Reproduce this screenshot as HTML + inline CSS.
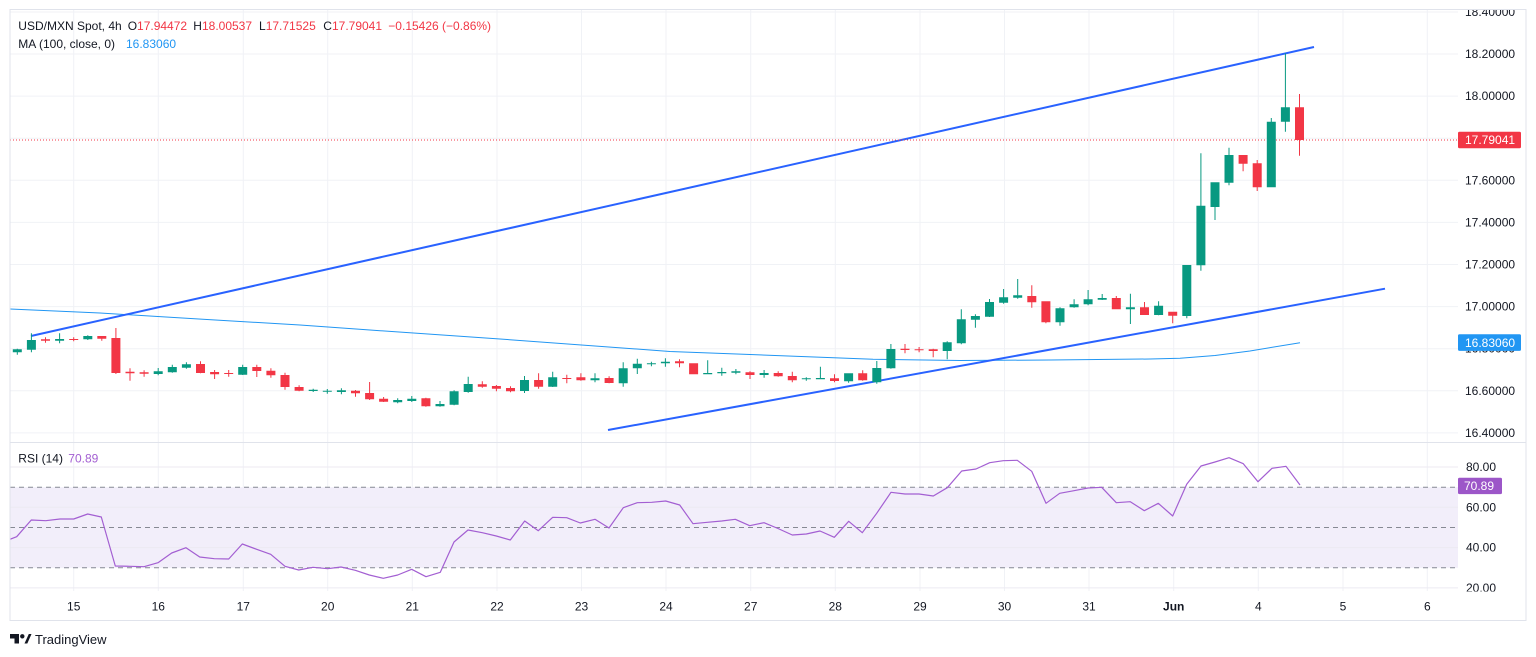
<!DOCTYPE html>
<html>
<head>
<meta charset="utf-8">
<style>
html,body{margin:0;padding:0;background:#fff;}
svg{display:block;}
text{font-family:"Liberation Sans",sans-serif;}
</style>
</head>
<body>
<svg width="1536" height="657" viewBox="0 0 1536 657" xmlns="http://www.w3.org/2000/svg">
<defs>
<clipPath id="mainClip"><rect x="10" y="10" width="1448" height="432"/></clipPath>
<clipPath id="rsiClip"><rect x="10" y="443" width="1448" height="148"/></clipPath>
<clipPath id="axClip"><rect x="1458" y="10" width="68" height="432"/></clipPath>
<clipPath id="axClip2"><rect x="1458" y="443" width="68" height="148.5"/></clipPath>
</defs>
<rect x="0" y="0" width="1536" height="657" fill="#fff"/>

<!-- vertical grid -->
<g stroke="#f0f2f6" stroke-width="1">
<line x1="73.7" y1="10" x2="73.7" y2="591"/>
<line x1="158.3" y1="10" x2="158.3" y2="591"/>
<line x1="243.3" y1="10" x2="243.3" y2="591"/>
<line x1="327.7" y1="10" x2="327.7" y2="591"/>
<line x1="412.3" y1="10" x2="412.3" y2="591"/>
<line x1="497" y1="10" x2="497" y2="591"/>
<line x1="581.5" y1="10" x2="581.5" y2="591"/>
<line x1="666" y1="10" x2="666" y2="591"/>
<line x1="750.7" y1="10" x2="750.7" y2="591"/>
<line x1="835.3" y1="10" x2="835.3" y2="591"/>
<line x1="920" y1="10" x2="920" y2="591"/>
<line x1="1004.5" y1="10" x2="1004.5" y2="591"/>
<line x1="1089" y1="10" x2="1089" y2="591"/>
<line x1="1173.7" y1="10" x2="1173.7" y2="591"/>
<line x1="1258.3" y1="10" x2="1258.3" y2="591"/>
<line x1="1343" y1="10" x2="1343" y2="591"/>
<line x1="1427.3" y1="10" x2="1427.3" y2="591"/>
</g>
<!-- horizontal grid main -->
<g stroke="#f0f2f6" stroke-width="1">
<line x1="10" y1="12" x2="1458" y2="12"/>
<line x1="10" y1="54" x2="1458" y2="54"/>
<line x1="10" y1="96.1" x2="1458" y2="96.1"/>
<line x1="10" y1="138.2" x2="1458" y2="138.2"/>
<line x1="10" y1="180.3" x2="1458" y2="180.3"/>
<line x1="10" y1="222.4" x2="1458" y2="222.4"/>
<line x1="10" y1="264.5" x2="1458" y2="264.5"/>
<line x1="10" y1="306.6" x2="1458" y2="306.6"/>
<line x1="10" y1="348.7" x2="1458" y2="348.7"/>
<line x1="10" y1="390.8" x2="1458" y2="390.8"/>
<line x1="10" y1="432.9" x2="1458" y2="432.9"/>
</g>

<!-- RSI band and grid -->
<rect x="10" y="487.2" width="1448" height="80.6" fill="#f2eefa"/>
<g stroke="#eceaf2" stroke-width="1">
<line x1="10" y1="467" x2="1458" y2="467"/>
<line x1="10" y1="507.3" x2="1458" y2="507.3"/>
<line x1="10" y1="547.6" x2="1458" y2="547.6"/>
<line x1="10" y1="587.9" x2="1458" y2="587.9"/>
</g>
<g stroke="#868993" stroke-width="1" stroke-dasharray="5,4">
<line x1="10" y1="487.2" x2="1458" y2="487.2"/>
<line x1="10" y1="527.5" x2="1458" y2="527.5"/>
<line x1="10" y1="567.8" x2="1458" y2="567.8"/>
</g>

<!-- pane separator -->
<line x1="10" y1="442.5" x2="1526" y2="442.5" stroke="#e0e3eb" stroke-width="1"/>

<g clip-path="url(#mainClip)">
<!-- MA -->
<polyline fill="none" stroke="#2196f3" stroke-width="1" points="10,309 100,313 207,319.5 300,325 363,329.5 500,339 670,351.5 750,354.5 873,359.3 960,360.5 1050,360 1150,359 1180,358.3 1215,355.5 1250,351 1300,342.7"/>
<!-- trend lines -->
<line x1="31" y1="336" x2="1314" y2="47" stroke="#2962ff" stroke-width="2"/>
<line x1="608" y1="430" x2="1385" y2="288.7" stroke="#2962ff" stroke-width="2"/>
<!-- price line -->
<line x1="10" y1="140" x2="1458" y2="140" stroke="#f23645" stroke-width="1" stroke-dasharray="1,2"/>

<!-- green candles -->
<path fill="#089981" d="
M16.8 348.7h1V354.7h-1z M12.8 349.3h9V352.3h-9z
M30.9 333.3h1V352.3h-1z M26.9 340h9V349.7h-9z
M59.1 333.3h1V343.3h-1z M55.1 339h9V340.7h-9z
M87.3 335.3h1V340h-1z M83.3 336h9V339.3h-9z
M157.7 368h1V375.3h-1z M153.7 371.3h9V374h-9z
M171.8 364.7h1V372.7h-1z M167.8 367h9V372.3h-9z
M185.9 362.3h1V368.7h-1z M181.9 364.3h9V367.7h-9z
M242.2 364.7h1V375h-1z M238.2 367h9V374.7h-9z
M312.7 388.7h1V392h-1z M308.7 389.7h9V391h-9z
M326.8 389h1V393.7h-1z M322.8 390.7h9V391.7h-9z
M340.9 388.3h1V394.3h-1z M336.9 390.3h9V392h-9z
M397.2 398.3h1V403.3h-1z M393.2 400h9V402.3h-9z
M411.3 396h1V402h-1z M407.3 398.7h9V401h-9z
M439.5 401h1V406.7h-1z M435.5 404h9V406.3h-9z
M453.6 390.3h1V405.3h-1z M449.6 391.3h9V404.7h-9z
M467.7 376.7h1V392.7h-1z M463.7 384h9V392h-9z
M524 376h1V393h-1z M520 380h9V391h-9z
M552.2 371.7h1V387h-1z M548.2 377.3h9V386.7h-9z
M594.5 373.3h1V382.3h-1z M590.5 378.3h9V380.3h-9z
M622.7 362.3h1V386.7h-1z M618.7 368.3h9V383.3h-9z
M636.8 358.7h1V374h-1z M632.8 363.7h9V368.3h-9z
M650.9 361.7h1V366.3h-1z M646.9 363.3h9V364.3h-9z
M664.9 358.3h1V366.7h-1z M660.9 361.7h9V363.3h-9z
M707.2 360.3h1V374.3h-1z M703.2 373h9V374.3h-9z
M721.3 367.7h1V375.7h-1z M717.3 372h9V373.3h-9z
M735.4 369h1V374.3h-1z M731.4 371.3h9V372.7h-9z
M763.6 370h1V377.7h-1z M759.6 373h9V375h-9z
M805.8 377.3h1V380.7h-1z M801.8 378.3h9V379.3h-9z
M819.9 366.7h1V379.3h-1z M815.9 378h9V379.3h-9z
M848.1 373.3h1V382.7h-1z M844.1 373.3h9V381.3h-9z
M876.3 361h1V383.7h-1z M872.3 368h9V382.3h-9z
M890.4 344h1V368.7h-1z M886.4 349h9V368.3h-9z
M946.7 341.3h1V359.3h-1z M942.7 342.3h9V351h-9z
M960.8 309.3h1V344.3h-1z M956.8 319.3h9V343.3h-9z
M974.9 314.3h1V327.7h-1z M970.9 316h9V319.7h-9z
M989 299h1V317h-1z M985 302h9V316.7h-9z
M1003.1 289h1V303.7h-1z M999.1 297.3h9V302.7h-9z
M1017.2 279h1V298.7h-1z M1013.2 295.3h9V297.7h-9z
M1059.5 307.3h1V325.7h-1z M1055.5 308.3h9V322.3h-9z
M1073.6 299.3h1V307.7h-1z M1069.6 304.3h9V307.3h-9z
M1087.6 290h1V305.3h-1z M1083.6 299.3h9V304.3h-9z
M1101.7 294h1V300h-1z M1097.7 298h9V299.7h-9z
M1129.9 293.7h1V324h-1z M1125.9 307.3h9V309.3h-9z
M1158.1 301.3h1V315.3h-1z M1154.1 305.7h9V315h-9z
M1186.3 265h1V318.3h-1z M1182.3 265h9V316h-9z
M1200.4 153.3h1V270.7h-1z M1196.4 205.7h9V265.3h-9z
M1214.5 182.3h1V220h-1z M1210.5 182.3h9V207h-9z
M1228.5 147.7h1V185.3h-1z M1224.5 155h9V182.7h-9z
M1270.8 118h1V187.3h-1z M1266.8 121.7h9V187.3h-9z
M1284.9 53.3h1V131.7h-1z M1280.9 107.3h9V121.7h-9z
"/>
<!-- red candles -->
<path fill="#f23645" d="
M45 337.3h1V342.7h-1z M41 339.3h9V340.7h-9z
M73.2 337.3h1V341.3h-1z M69.2 339h9V340h-9z
M101.3 336h1V340.7h-1z M97.3 336h9V338.7h-9z
M115.4 328h1V374h-1z M111.4 338h9V373h-9z
M129.5 368.3h1V380.7h-1z M125.5 371.7h9V373.3h-9z
M143.6 370.3h1V376.7h-1z M139.6 372.3h9V373.7h-9z
M200 361.3h1V373.3h-1z M196 364h9V373h-9z
M214.1 370h1V379h-1z M210.1 372h9V374.3h-9z
M228.2 370h1V376.7h-1z M224.2 373h9V374h-9z
M256.3 364.7h1V377h-1z M252.3 367h9V371h-9z
M270.4 368.3h1V377.7h-1z M266.4 370.7h9V375.3h-9z
M284.5 372.7h1V389.7h-1z M280.5 375h9V387h-9z
M298.6 385.3h1V391.3h-1z M294.6 387h9V390.7h-9z
M355 390h1V396.7h-1z M351 390.7h9V393.3h-9z
M369.1 382h1V400h-1z M365.1 393h9V399.3h-9z
M383.1 397h1V402h-1z M379.1 398.7h9V401.7h-9z
M425.4 397.7h1V406.7h-1z M421.4 398.3h9V406.3h-9z
M481.8 381.3h1V387.7h-1z M477.8 384.3h9V386.7h-9z
M495.9 385h1V391.3h-1z M491.9 386h9V388.7h-9z
M510 386.3h1V392.3h-1z M506 388h9V391.3h-9z
M538.1 373.3h1V388.7h-1z M534.1 380h9V386.7h-9z
M566.3 374.7h1V383.3h-1z M562.3 378h9V379h-9z
M580.4 373.3h1V380.7h-1z M576.4 377.3h9V380.3h-9z
M608.6 376.3h1V383.3h-1z M604.6 378h9V383h-9z
M679 359.3h1V367.3h-1z M675 361.3h9V363.3h-9z
M693.1 363.3h1V374.3h-1z M689.1 363.3h9V374.3h-9z
M749.5 371.3h1V379h-1z M745.5 372.3h9V375h-9z
M777.7 371.3h1V376.7h-1z M773.7 373h9V376.3h-9z
M791.8 371.7h1V382.3h-1z M787.8 376h9V380.3h-9z
M834 374.3h1V382.3h-1z M830 378.3h9V381h-9z
M862.2 370.3h1V380.7h-1z M858.2 373.3h9V380.3h-9z
M904.5 344h1V353.3h-1z M900.5 348.7h9V350h-9z
M918.6 347h1V352.3h-1z M914.6 349.3h9V350.3h-9z
M932.7 348.7h1V357.3h-1z M928.7 349.3h9V351h-9z
M1031.3 285.3h1V307.7h-1z M1027.3 296h9V302.3h-9z
M1045.4 301.3h1V323.3h-1z M1041.4 301.3h9V322.3h-9z
M1115.8 296h1V309.3h-1z M1111.8 298h9V309.3h-9z
M1144 302h1V315h-1z M1140 307.3h9V315h-9z
M1172.2 311.7h1V323.3h-1z M1168.2 311.7h9V315.7h-9z
M1242.6 155h1V171.3h-1z M1238.6 155h9V163.7h-9z
M1256.7 160h1V191h-1z M1252.7 163.3h9V187.3h-9z
M1299 94h1V155.7h-1z M1295 107.3h9V140h-9z
"/>
</g>

<!-- RSI line -->
<g clip-path="url(#rsiClip)">
<polyline fill="none" stroke="#a35fd2" stroke-width="1.2" stroke-linejoin="round" points="10,539.3 16.7,536.7 31.3,520 45.7,520.7 60,519 73.7,519 87.7,514 101.3,517 115.3,566 130,566.3 144,566.7 158,562.7 171.7,553 186,547.7 199.7,557 214.3,558.7 228.7,559 242.3,544 256.7,549.3 270.7,554.3 285,566.3 298.7,570 313,567.3 327.7,568.7 341,567 355.3,570.3 369.3,575 383.3,578.3 397.7,575 411.7,569.3 426,576.7 440.3,572.3 454,542 468,530 482.3,532.7 496.3,536 510.3,540 524.7,521 538.3,530.7 552.7,517.3 566.7,517.7 580.3,523 595,519.3 609,528 623.3,507.7 637.3,502.7 651.7,502.3 665.7,501 679.7,505 693,523.7 707.3,522.3 721.7,521 735.3,519.3 749.7,525.7 764,522.7 778,528.5 792.3,535 806.3,534 820,531 834.3,537.3 848.7,521.3 862.3,532.7 876.7,513.3 891,492.3 905,494 919,494 933.3,496 947.3,487.7 961.7,471 976,469 989.7,462.7 1003.3,460.7 1017.3,460.3 1031.7,471.3 1046,503.3 1059.7,493.3 1074,490.7 1088,488 1101.7,487.3 1116.3,502.7 1130.3,501.7 1144.3,510.7 1158.3,503.3 1172.7,516 1186.7,484.3 1201,466 1215,462 1229,457.7 1243.3,463.7 1258,481.7 1272,468.3 1286,466.3 1300,485"/>
</g>

<!-- price axis labels -->
<g clip-path="url(#axClip)" font-size="12" fill="#131722" dominant-baseline="central">
<text x="1465" y="12">18.40000</text>
<text x="1465" y="54">18.20000</text>
<text x="1465" y="96.1">18.00000</text>
<text x="1465" y="180.3">17.60000</text>
<text x="1465" y="222.4">17.40000</text>
<text x="1465" y="264.5">17.20000</text>
<text x="1465" y="306.6">17.00000</text>
<text x="1465" y="348.7">16.80000</text>
<text x="1465" y="390.8">16.60000</text>
<text x="1465" y="432.9">16.40000</text>
</g>
<rect x="1458" y="131.7" width="63" height="16.6" rx="1.5" fill="#f23645"/>
<text x="1465" y="140.2" font-size="12" fill="#fff" dominant-baseline="central">17.79041</text>
<rect x="1458" y="334.3" width="63" height="16.6" rx="1.5" fill="#2196f3"/>
<text x="1465" y="342.8" font-size="12" fill="#fff" dominant-baseline="central">16.83060</text>

<!-- RSI axis -->
<g clip-path="url(#axClip2)" font-size="12" fill="#131722" dominant-baseline="central">
<text x="1466" y="467">80.00</text>
<text x="1466" y="507.3">60.00</text>
<text x="1466" y="547.6">40.00</text>
<text x="1466" y="587.9">20.00</text>
</g>
<rect x="1458" y="477.7" width="44" height="16.4" rx="1.5" fill="#9c56c8"/>
<text x="1464" y="486" font-size="12" fill="#fff" dominant-baseline="central">70.89</text>

<!-- time axis -->
<g font-size="12" fill="#131722" text-anchor="middle" dominant-baseline="central">
<text x="73.7" y="606.5">15</text>
<text x="158.3" y="606.5">16</text>
<text x="243.3" y="606.5">17</text>
<text x="327.7" y="606.5">20</text>
<text x="412.3" y="606.5">21</text>
<text x="497" y="606.5">22</text>
<text x="581.5" y="606.5">23</text>
<text x="666" y="606.5">24</text>
<text x="750.7" y="606.5">27</text>
<text x="835.3" y="606.5">28</text>
<text x="920" y="606.5">29</text>
<text x="1004.5" y="606.5">30</text>
<text x="1089" y="606.5">31</text>
<text x="1173.7" y="606.5" font-weight="bold">Jun</text>
<text x="1258.3" y="606.5">4</text>
<text x="1343" y="606.5">5</text>
<text x="1427.3" y="606.5">6</text>
</g>

<!-- legends -->
<g font-size="12" dominant-baseline="central">
<text x="18.3" y="26" fill="#131722">USD/MXN Spot, 4h</text>
<text x="127.7" y="26" fill="#131722">O<tspan fill="#f23645">17.94472</tspan></text>
<text x="193.3" y="26" fill="#131722">H<tspan fill="#f23645">18.00537</tspan></text>
<text x="259" y="26" fill="#131722">L<tspan fill="#f23645">17.71525</tspan></text>
<text x="323.3" y="26" fill="#131722">C<tspan fill="#f23645">17.79041</tspan></text>
<text x="388.3" y="26" fill="#f23645">−0.15426 (−0.86%)</text>
<text x="18.3" y="44" fill="#131722">MA (100, close, 0)</text>
<text x="126" y="44" fill="#2196f3">16.83060</text>
<text x="18.3" y="458.7" fill="#131722">RSI (14)</text>
<text x="68.3" y="458.7" fill="#a35fd2">70.89</text>
</g>

<!-- frame -->
<rect x="10" y="9.5" width="1516" height="611" fill="none" stroke="#e0e3eb" stroke-width="1"/>

<!-- TradingView logo -->
<path d="M10 634h9v9.5h-4.5v-5h-4.5z" fill="#131722"/>
<circle cx="22.3" cy="636.3" r="2.2" fill="#131722"/>
<path d="M24.5 643.5L28.8 634H31.5L27.3 643.5z" fill="#131722"/>
<text x="35" y="639.3" font-size="13" fill="#131722" dominant-baseline="central">TradingView</text>
</svg>
</body>
</html>
